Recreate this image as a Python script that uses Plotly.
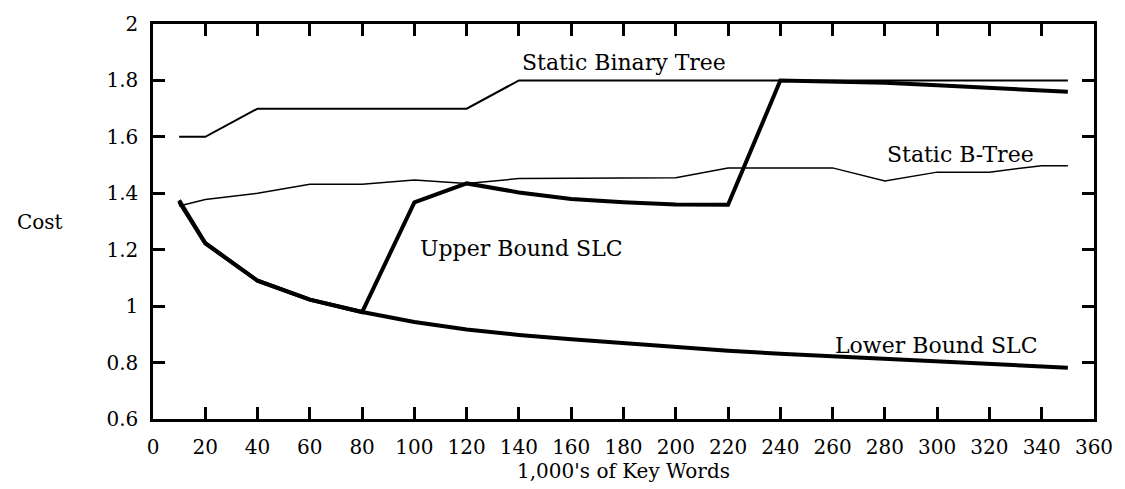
import plotly.graph_objects as go

x_keys = [10, 20, 40, 60, 80, 100, 120, 140, 160, 180, 200, 220, 240, 260, 280, 300, 320, 340, 350]

static_binary_tree = [1.60, 1.60, 1.70, 1.70, 1.70, 1.70, 1.70, 1.80, 1.80, 1.80, 1.80, 1.80, 1.80, 1.80, 1.80, 1.80, 1.80, 1.80, 1.80]
static_b_tree = [1.355, 1.378, 1.40, 1.432, 1.432, 1.447, 1.435, 1.452, 1.453, 1.453, 1.455, 1.49, 1.49, 1.49, 1.444, 1.475, 1.475, 1.498, 1.498]
upper_bound_slc = [1.375, 1.223, 1.09, 1.023, 0.979, 1.368, 1.435, 1.403, 1.38, 1.368, 1.36, 1.359, 1.80, 1.797, 1.792, 1.783, 1.774, 1.765, 1.76]
lower_bound_slc = [1.37, 1.223, 1.09, 1.023, 0.979, 0.944, 0.917, 0.898, 0.883, 0.869, 0.855, 0.842, 0.831, 0.822, 0.811, 0.803, 0.795, 0.787, 0.782]

x_ticks = list(range(0, 361, 20))
y_ticks = [0.6, 0.8, 1.0, 1.2, 1.4, 1.6, 1.8, 2.0]
y_tick_text = ["0.6", "0.8", "1", "1.2", "1.4", "1.6", "1.8", "2"]

labels = [
    ("Static Binary Tree", 180.3, 1.862),
    ("Static B-Tree", 309, 1.538),
    ("Upper Bound SLC", 141, 1.205),
    ("Lower Bound SLC", 299.7, 0.862),
]

FONT = "DejaVu Serif"
FS = 20
LABEL_FS = 22

fig = go.Figure()
fig.add_trace(go.Scatter(x=x_keys, y=static_binary_tree, mode="lines",
                         line=dict(color="black", width=2), name="Static Binary Tree"))
fig.add_trace(go.Scatter(x=x_keys, y=static_b_tree, mode="lines",
                         line=dict(color="black", width=1.5), name="Static B-Tree"))
fig.add_trace(go.Scatter(x=x_keys, y=upper_bound_slc, mode="lines",
                         line=dict(color="black", width=4), name="Upper Bound SLC"))
fig.add_trace(go.Scatter(x=x_keys, y=lower_bound_slc, mode="lines",
                         line=dict(color="black", width=4), name="Lower Bound SLC"))

for text, lx, ly in labels:
    fig.add_annotation(x=lx, y=ly, text=text, showarrow=False,
                       font=dict(family=FONT, size=LABEL_FS, color="black"),
                       xanchor="center", yanchor="middle")

fig.add_annotation(x=-0.12, y=0.5, xref="paper", yref="paper", text="Cost", showarrow=False,
                   xanchor="center", yanchor="middle",
                   font=dict(family=FONT, size=FS, color="black"))

fig.update_layout(
    width=1125, height=489,
    margin=dict(l=153, r=30, t=17, b=70),
    paper_bgcolor="white", plot_bgcolor="white",
    showlegend=False,
    font=dict(family=FONT, size=FS, color="black"),
)

fig.update_xaxes(
    range=[0, 360], tickvals=x_ticks, ticktext=[str(v) for v in x_ticks],
    ticks="inside", ticklen=12, tickwidth=2.5, tickcolor="black",
    showline=True, linecolor="black", linewidth=2.5, mirror="ticks",
    showgrid=False, zeroline=False, ticklabelstandoff=8,
    title=dict(text="1,000's of Key Words", font=dict(family=FONT, size=FS), standoff=0),
    tickfont=dict(family=FONT, size=FS),
)
fig.update_yaxes(
    range=[0.6, 2.0], tickvals=y_ticks, ticktext=y_tick_text,
    ticks="inside", ticklen=12, tickwidth=2.5, tickcolor="black",
    showline=True, linecolor="black", linewidth=2.5, mirror="ticks",
    showgrid=False, zeroline=False, ticklabelstandoff=8,
    tickfont=dict(family=FONT, size=FS),
)

fig.write_html("out.html", config={"displayModeBar": False})
